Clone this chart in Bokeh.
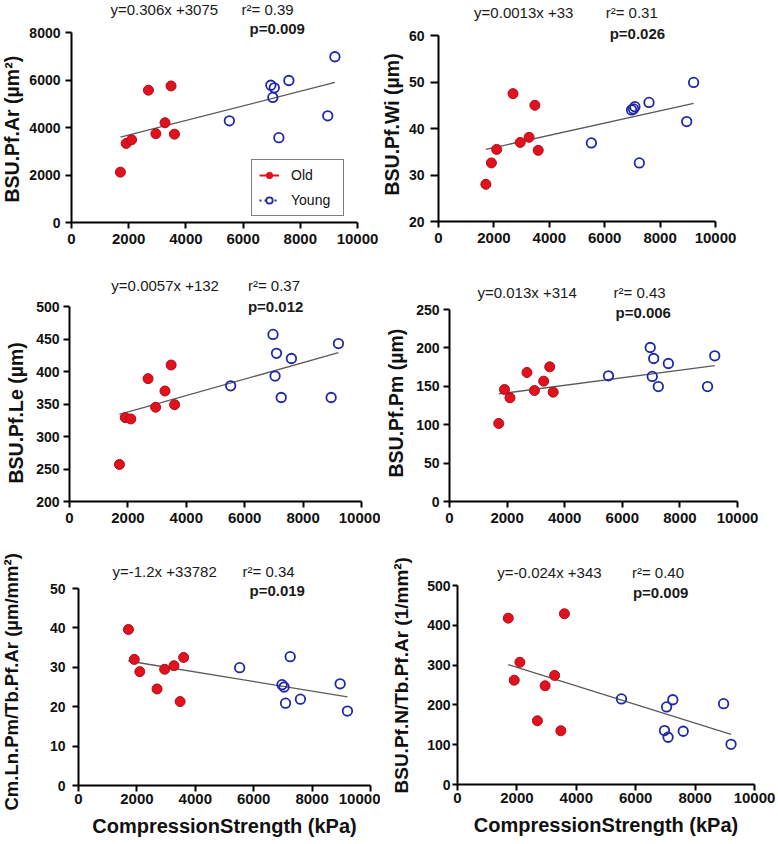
from bokeh.plotting import figure
from bokeh.models import Range1d, FixedTicker, Label, Legend, LegendItem, Title
from bokeh.layouts import column, row
from bokeh.embed import file_html
from bokeh.resources import INLINE

# ---------------- data ----------------
x_old = [1710, 1910, 2100, 2690, 2950, 3270, 3480, 3600]
x_young = [5520, 6970, 7040, 7090, 7250, 7600, 8960, 9210]
x_ticks = [0, 2000, 4000, 6000, 8000, 10000]
fit_x = [1710, 9210]

ar_old = [2120, 3330, 3480, 5570, 3740, 4200, 5750, 3720]
ar_young = [4280, 5780, 5265, 5670, 3570, 5980, 4490, 6980]
ar_fit = [3590, 5895]
ar_ticks = [0, 2000, 4000, 6000, 8000]

wi_old = [28.0, 32.6, 35.5, 47.5, 37.0, 38.1, 45.0, 35.3]
wi_young = [36.9, 44.0, 44.2, 44.7, 32.6, 45.6, 41.5, 49.9]
wi_fit = [35.5, 45.4]
wi_ticks = [20, 30, 40, 50, 60]

le_old = [257, 329, 327, 389, 345, 370, 410, 349]
le_young = [378, 457, 393, 428, 360, 420, 360, 443]
le_fit = [334, 429]
le_ticks = [200, 250, 300, 350, 400, 450, 500]

pm_old = [101.6, 145.8, 135, 168, 144.5, 156.7, 175.3, 142.4]
pm_young = [163.6, 200.5, 162.8, 186.2, 149.7, 179.7, 149.7, 189.7]
pm_fit = [140, 177]
pm_ticks = [0, 50, 100, 150, 200, 250]

cm_old = [39.6, 32.0, 28.9, 24.5, 29.5, 30.4, 21.3, 32.5]
cm_young = [29.9, 25.6, 25.0, 20.9, 32.7, 21.9, 25.8, 18.9]
cm_fit = [31.6, 22.5]
cm_ticks = [0, 10, 20, 30, 40, 50]

n_old = [418, 262, 307, 160, 248, 274, 135, 429]
n_young = [215, 135.5, 194.8, 118.7, 213, 133.8, 203, 101]
n_fit = [301, 126]
n_ticks = [0, 100, 200, 300, 400, 500]

group_labels = ["Old", "Young"]
x_title = "CompressionStrength (kPa)"

# ---------------- style ----------------
RED_FILL = "#e3101e"
RED_LINE = "#a80f18"
BLUE = "#1f28a8"
FIT = "#5a5a5a"
FONT = "Liberation Sans"
NAN = float("nan")


def ytitle_fig(tw, h, bottom, text, size, standoff, offset):
    """Narrow strip whose left side panel holds the rotated y-axis title."""
    f = figure(width=tw, height=h, x_range=Range1d(0, 1), y_range=Range1d(0, 1),
               x_axis_type=None, y_axis_type=None,
               output_backend="svg", toolbar_location=None, tools="",
               min_border_left=0, min_border_right=0, min_border_top=0,
               min_border_bottom=bottom)
    f.grid.visible = False
    f.outline_line_color = None
    f.border_fill_color = "white"
    f.background_fill_color = "white"
    f.add_layout(Title(text=text, align="left", vertical_align="top",
                       offset=offset, standoff=standoff,
                       text_font=FONT, text_font_size=size,
                       text_font_style="bold", text_color="#111111"), "left")
    return f


def panel(w, h, tw, left, top, fw, fh, yr, yticks, ylabel, ylab_size,
          ylab_standoff, ylab_bottom, old, young, fit, eq, r2, pval,
          eq_pos, r2_pos, p_pos, xlabel=None, ytick_len=6, ytick_standoff=5,
          xtick_standoff=5, xlab_standoff=5, legend=False):
    mw = w - tw
    mleft = left - tw
    right = w - left - fw
    bottom = h - top - fh
    # the frame is extended upward over the top margin so that the
    # equation texts (drawn as in-frame labels) are not clipped
    y_top = yr[1] + top / fh * (yr[1] - yr[0])
    p = figure(width=mw, height=h, x_range=Range1d(0, 10000),
               y_range=Range1d(yr[0], y_top), output_backend="svg",
               toolbar_location=None, tools="",
               min_border_left=mleft, min_border_right=right,
               min_border_top=0, min_border_bottom=bottom)
    p.grid.visible = False
    p.outline_line_color = None
    p.background_fill_color = "white"
    p.border_fill_color = "white"

    for ax in (p.xaxis[0], p.yaxis[0]):
        ax.axis_line_width = 2
        ax.axis_line_color = "black"
        ax.major_tick_line_width = 2
        ax.major_tick_line_color = "black"
        ax.major_tick_in = 0
        ax.minor_tick_line_color = None
        ax.major_label_text_font = FONT
        ax.major_label_text_font_style = "bold"
        ax.major_label_text_color = "#111111"
        ax.axis_label_text_font = FONT
        ax.axis_label_text_font_style = "bold"
        ax.axis_label_text_color = "#111111"

    xa = p.xaxis[0]
    xa.ticker = FixedTicker(ticks=x_ticks)
    xa.major_tick_out = 6
    xa.major_label_standoff = xtick_standoff
    xa.major_label_text_font_size = "15px"
    if xlabel:
        xa.axis_label = xlabel
        xa.axis_label_text_font_size = "20px"
        xa.axis_label_standoff = xlab_standoff

    ya = p.yaxis[0]
    ya.ticker = FixedTicker(ticks=yticks)
    ya.bounds = (yr[0], yr[1])
    ya.major_tick_out = ytick_len
    ya.major_label_standoff = ytick_standoff
    ya.major_label_text_font_size = "14px"

    p.line(fit_x, fit, line_color=FIT, line_width=1.3)
    p.scatter(x_old, old, size=10, fill_color=RED_FILL,
              line_color=RED_LINE, line_width=1)
    p.scatter(x_young, young, size=9.5, fill_color=None,
              line_color=BLUE, line_width=1.8)

    def to_data(dx, dy):
        return (dx / fw * 10000.0, yr[1] - dy / fh * (yr[1] - yr[0]))

    for txt, pos, style in ((eq, eq_pos, "normal"), (r2, r2_pos, "normal"),
                            (pval, p_pos, "bold")):
        xd, yd = to_data(*pos)
        p.add_layout(Label(x=xd, y=yd, text=txt, text_font=FONT,
                           text_font_size="15px", text_font_style=style,
                           text_color="#1a1a1a", text_baseline="middle",
                           text_align="left"))

    if legend:
        l_old = p.line([NAN], [NAN], line_color=RED_FILL, line_width=2)
        m_old = p.scatter([NAN], [NAN], size=6, fill_color=RED_FILL,
                          line_color=RED_FILL)
        l_young = p.line([NAN], [NAN], line_color=BLUE, line_width=2,
                         line_dash="2 3")
        m_young = p.scatter([NAN], [NAN], size=6, fill_color="white",
                            line_color=BLUE, line_width=1.8)
        lg = Legend(items=[LegendItem(label=group_labels[0], renderers=[l_old, m_old]),
                           LegendItem(label=group_labels[1], renderers=[l_young, m_young])],
                    location=(180, 6), margin=0, padding=7, spacing=9,
                    glyph_width=20, glyph_height=16, label_height=16,
                    label_width=45, label_standoff=12,
                    label_text_font=FONT, label_text_font_size="14px",
                    label_text_color="#111111",
                    border_line_color="black", border_line_width=1,
                    background_fill_color="white", background_fill_alpha=1)
        p.add_layout(lg)

    # y title: starts (bottom end) at ylab_bottom px from the row top
    yt = ytitle_fig(tw, h, bottom, ylabel, ylab_size, ylab_standoff,
                    (top + fh) - ylab_bottom)
    return row(yt, p)


# row 1 (height 268)
c1 = panel(380, 268, 25, 71, 32, 286, 190, (0, 8000), ar_ticks,
           "BSU.Pf.Ar (µm²)", "19.5px", 0, 202, ar_old, ar_young, ar_fit,
           "y=0.306x +3075", "r²= 0.39", "p=0.009",
           (39, -23), (170, -23), (178, -4), legend=True)
c2 = panel(398, 268, 25, 55, 35, 280, 186, (20, 60), wi_ticks,
           "BSU.Pf.Wi (µm)", "19.5px", 0, 195, wi_old, wi_young, wi_fit,
           "y=0.0013x +33", "r²= 0.31", "p=0.026",
           (36, -23), (169, -23), (173, -2), ytick_len=8, ytick_standoff=6)
# row 2 (height 280)
c3 = panel(380, 280, 33, 68, 38, 293, 195, (200, 500), le_ticks,
           "BSU.Pf.Le (µm)", "19.5px", 8, 215, le_old, le_young, le_fit,
           "y=0.0057x +132", "r²= 0.37", "p=0.012",
           (42, -21), (179, -21), (179, 0), ytick_standoff=4)
c4 = panel(398, 280, 33, 69, 41, 288, 192, (0, 250), pm_ticks,
           "BSU.Pf.Pm (µm)", "19.5px", 8, 209, pm_old, pm_young, pm_fit,
           "y=0.013x +314", "r²= 0.43", "p=0.006",
           (28, -17), (164, -17), (166, 3), ytick_standoff=4)
# row 3 (height 296)
c5 = panel(380, 296, 24, 78, 40, 292, 197, (0, 50), cm_ticks,
           "Cm.Ln.Pm/Tb.Pf.Ar (µm/mm²)", "18.5px", 0, 262,
           cm_old, cm_young, cm_fit,
           "y=-1.2x +33782", "r²= 0.34", "p=0.019",
           (34, -17), (164, -17), (171, 2), xlabel=x_title,
           ytick_standoff=7, xtick_standoff=2, xlab_standoff=8)
c6 = panel(398, 296, 44, 76, 37, 298, 199, (0, 500), n_ticks,
           "BSU.Pf.N/Tb.Pf.Ar (1/mm²)", "19px", 20, 245,
           n_old, n_young, n_fit,
           "y=-0.024x +343", "r²= 0.40", "p=0.009",
           (40, -13), (175, -13), (176, 7), xlabel=x_title,
           ytick_len=5, ytick_standoff=2, xtick_standoff=2, xlab_standoff=8)

layout = column(row(c1, c2), row(c3, c4), row(c5, c6))

with open("out.html", "w") as f:
    f.write(file_html(layout, INLINE))
